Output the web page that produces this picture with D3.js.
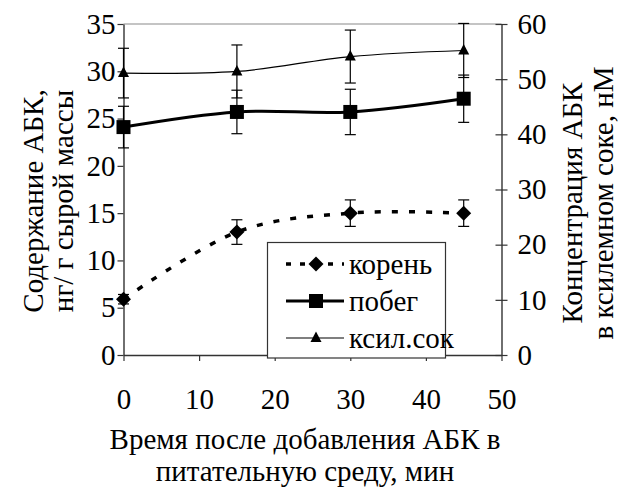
<!DOCTYPE html>
<html>
<head>
<meta charset="UTF-8">
<script src="https://d3js.org/d3.v7.min.js"></script>
</head>
<body style="margin:0">
<svg id="fig" width="621" height="488"></svg>
<script>
// time after ABA addition, min
const minutes = [0, 15, 30, 45];
// root and shoot, ng/g fresh weight (left axis)
const koren    = [5.9, 13.0, 15.0, 15.0];
const korenErr = [0.5, 1.3, 1.4, 1.4];
const pobeg    = [24.1, 25.7, 25.7, 27.1];
const pobegErr = [2.2, 2.3, 2.4, 2.5];
// xylem sap, nM (right axis)
const ksil     = [51.1, 51.4, 54.1, 55.2];
const ksilErr  = [4.5, 4.8, 4.8, 4.9];

const xTicks = [0, 10, 20, 30, 40, 50];
const yLeftTicks = [0, 5, 10, 15, 20, 25, 30, 35];
const yRightTicks = [0, 10, 20, 30, 40, 50, 60];
const seriesNames = ["корень", "побег", "ксил.сок"];

const serifFont = "Liberation Serif";
const fontSize = 29;

const svg = d3.select("#fig");
const L = 123.5, R = 501.5, T = 24, B = 355;

const x = d3.scaleLinear().domain([0, 50]).range([L, R]);
const yL = d3.scaleLinear().domain([0, 35]).range([B, T]);
const yR = d3.scaleLinear().domain([0, 60]).range([B, T]);

const axisColor = "#333";

// top border of plot area
svg.append("line").attr("x1", L).attr("x2", R).attr("y1", T).attr("y2", T)
  .attr("stroke", "#8a8a8a").attr("stroke-width", 1.2);

// axes
const gx = svg.append("g").attr("transform", `translate(0,${B})`)
  .call(d3.axisBottom(x).tickValues(xTicks).tickSize(6).tickSizeOuter(0).tickPadding(27));
const gl = svg.append("g").attr("transform", `translate(${L},0)`)
  .call(d3.axisLeft(yL).tickValues(yLeftTicks).tickSize(6).tickSizeOuter(0).tickPadding(2));
const gr = svg.append("g").attr("transform", `translate(${R},0)`)
  .call(d3.axisRight(yR).tickValues(yRightTicks).tickSize(6).tickSizeOuter(0).tickPadding(10));
gr.selectAll(".tick line").attr("x1", -6);

[gx, gl, gr].forEach(g => {
  g.attr("font-family", serifFont).attr("font-size", fontSize);
  g.select(".domain").attr("stroke", axisColor).attr("stroke-width", 1.4);
  g.selectAll(".tick line").attr("stroke", axisColor).attr("stroke-width", 1.2);
  g.selectAll(".tick text").attr("fill", "#000")
    .attr("font-family", serifFont).attr("font-size", fontSize);
});

// curves (smoothed like the spreadsheet original)
const smooth = d3.curveCardinal.tension(0);
function series(vals, errs, yScale) {
  return minutes.map((m, i) => ({ x: m, y: vals[i], e: errs[i], ys: yScale }));
}
const sKoren = series(koren, korenErr, yL);
const sPobeg = series(pobeg, pobegErr, yL);
const sKsil = series(ksil, ksilErr, yR);

const line = d3.line().x(d => x(d.x)).y(d => d.ys(d.y)).curve(smooth);

svg.append("path").datum(sKsil).attr("d", line)
  .attr("fill", "none").attr("stroke", "#000").attr("stroke-width", 1.2);
svg.append("path").datum(sPobeg).attr("d", line)
  .attr("fill", "none").attr("stroke", "#000").attr("stroke-width", 3);
svg.append("path").datum(sKoren).attr("d", line)
  .attr("fill", "none").attr("stroke", "#000").attr("stroke-width", 3.5)
  .attr("stroke-dasharray", "6,11");

// error bars
function errorBars(data) {
  const g = svg.append("g").attr("stroke", "#000").attr("stroke-width", 1.2);
  data.forEach(d => {
    const cx = x(d.x), y0 = d.ys(d.y - d.e), y1 = d.ys(d.y + d.e);
    g.append("line").attr("x1", cx).attr("x2", cx).attr("y1", y0).attr("y2", y1);
    g.append("line").attr("x1", cx - 5.5).attr("x2", cx + 5.5).attr("y1", y0).attr("y2", y0);
    g.append("line").attr("x1", cx - 5.5).attr("x2", cx + 5.5).attr("y1", y1).attr("y2", y1);
  });
}
errorBars(sKsil);
errorBars(sPobeg);
errorBars(sKoren);

// markers
const diamond = (cx, cy) => `M${cx},${cy - 7.5}L${cx + 7.5},${cy}L${cx},${cy + 7.5}L${cx - 7.5},${cy}Z`;
const square = (cx, cy) => `M${cx - 7},${cy - 7}h14v14h-14Z`;
const triangle = (cx, cy) => `M${cx},${cy - 6.5}L${cx + 5.5},${cy + 4}L${cx - 5.5},${cy + 4}Z`;

function markers(data, shape) {
  svg.append("g").selectAll("path").data(data).join("path")
    .attr("d", d => shape(x(d.x), d.ys(d.y))).attr("fill", "#000");
}
markers(sKsil, triangle);
markers(sPobeg, square);
markers(sKoren, diamond);

// legend
const leg = svg.append("g");
leg.append("rect").attr("x", 267.5).attr("y", 242.5).attr("width", 178).attr("height", 115.5)
  .attr("fill", "#fff").attr("stroke", "#333").attr("stroke-width", 1.2);
const legStyles = [
  { w: 3.5, dash: "5,9", shape: diamond },
  { w: 3, dash: null, shape: square },
  { w: 1.2, dash: null, shape: triangle }
];
seriesNames.forEach((name, i) => {
  const cy = 264 + i * 37;
  const st = legStyles[i];
  const ln = leg.append("line").attr("x1", 286).attr("x2", 344).attr("y1", cy).attr("y2", cy)
    .attr("stroke", "#000").attr("stroke-width", st.w);
  if (st.dash) ln.attr("stroke-dasharray", st.dash);
  leg.append("path").attr("d", st.shape(316, cy)).attr("fill", "#000");
  leg.append("text").attr("x", 349).attr("y", cy + 10)
    .attr("font-family", serifFont).attr("font-size", fontSize).text(name);
});

// axis titles
function title(txt, tx, ty, rot) {
  svg.append("text").attr("text-anchor", "middle")
    .attr("font-family", serifFont).attr("font-size", fontSize)
    .attr("transform", `translate(${tx},${ty})` + (rot ? " rotate(-90)" : ""))
    .text(txt);
}
title("Время после добавления АБК в", 305, 449, false);
title("питательную среду, мин", 305, 481, false);
title("Содержание АБК,", 43, 201, true);
title("нг/ г сырой массы", 73, 201, true);
title("Концентрация АБК", 582, 203, true);
title("в ксилемном соке, нМ", 613, 203, true);
</script>
</body>
</html>
